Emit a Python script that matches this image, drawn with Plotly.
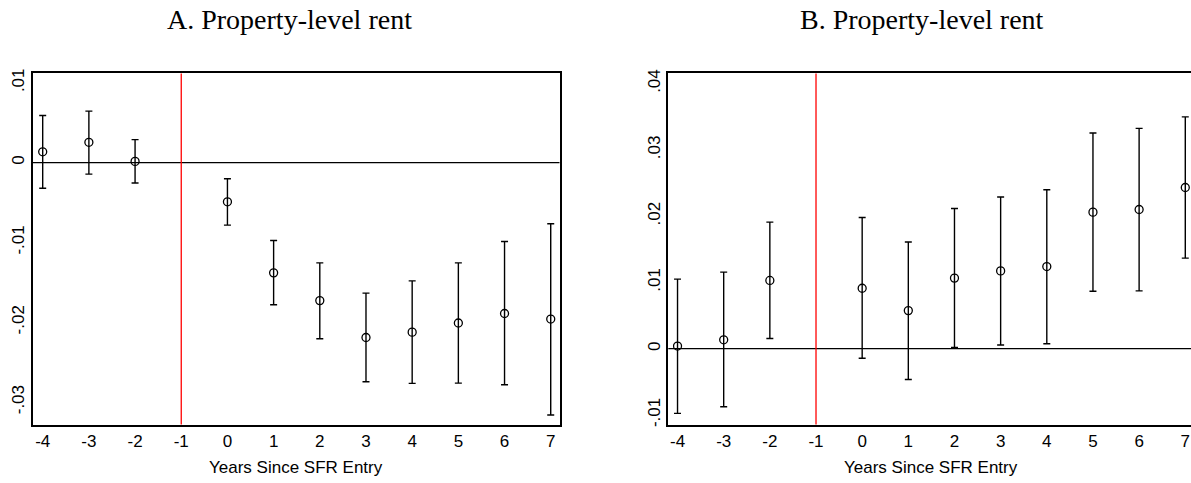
import plotly.graph_objects as go
import numpy as np

years = [-4, -3, -2, 0, 1, 2, 3, 4, 5, 6, 7]

# Panel A: Property-level rent
a_est = [0.00136, 0.00255, 0.00016, -0.0049, -0.0138, -0.01728, -0.0219, -0.02123, -0.02008, -0.01889, -0.01959]
a_hi = [0.0059, 0.00646, 0.00288, -0.00202, -0.00975, -0.01255, -0.01634, -0.01481, -0.01255, -0.00988, -0.00765]
a_lo = [-0.0032, -0.00144, -0.00255, -0.00782, -0.0178, -0.02206, -0.02745, -0.02765, -0.02761, -0.02782, -0.0316]

# Panel B: Property-level rent
b_est = [0.0004, 0.00134, 0.0103, 0.00912, 0.00575, 0.01065, 0.01174, 0.01239, 0.0206, 0.0210, 0.02432]
b_hi = [0.0105, 0.01155, 0.0191, 0.0198, 0.0161, 0.02115, 0.02289, 0.02398, 0.03254, 0.03324, 0.03498]
b_lo = [-0.00975, -0.00876, 0.00154, -0.00143, -0.00465, 0.0002, 0.00055, 0.00074, 0.00867, 0.00872, 0.01367]

x_ticks = [-4, -3, -2, -1, 0, 1, 2, 3, 4, 5, 6, 7]
a_yticks = [-0.03, -0.02, -0.01, 0, 0.01]
a_ytext = ["-.03", "-.02", "-.01", "0", ".01"]
b_yticks = [-0.01, 0, 0.01, 0.02, 0.03, 0.04]
b_ytext = ["-.01", "0", ".01", ".02", ".03", ".04"]

titles = ["A. Property-level rent", "B. Property-level rent"]
xlabel = "Years Since SFR Entry"

W, H = 1191, 483
fig = go.Figure()


def add_panel(est, hi, lo, xa, ya):
    est = np.array(est); hi = np.array(hi); lo = np.array(lo)
    fig.add_trace(go.Scatter(
        x=years, y=est, mode="markers", xaxis=xa, yaxis=ya,
        marker=dict(symbol="circle-open", size=8, color="black", line=dict(width=1.3, color="black")),
        error_y=dict(type="data", symmetric=False, array=hi - est, arrayminus=est - lo,
                     color="black", thickness=1.4, width=3.5),
        showlegend=False, hoverinfo="skip"))


add_panel(a_est, a_hi, a_lo, "x", "y")
add_panel(b_est, b_hi, b_lo, "x2", "y2")

font_tick = dict(family="Liberation Sans, Arial, sans-serif", size=17, color="black")
ydom = [1 - 425.7 / H, 1 - 69.5 / H]

common_x = dict(tickvals=x_ticks, ticktext=[str(v) for v in x_ticks], showgrid=False, zeroline=False,
                showline=True, linecolor="black", linewidth=1.5, ticks="", tickfont=font_tick)
common_y = dict(showgrid=False, zeroline=False, showline=True, linecolor="black", linewidth=1.5,
                ticks="", tickfont=font_tick, tickangle=-90)

fig.update_layout(
    width=W, height=H, margin=dict(l=0, r=0, t=0, b=0),
    paper_bgcolor="white", plot_bgcolor="white",
    xaxis=dict(domain=[33 / W, 559.5 / W], range=[-4.21, 7.19], anchor="y", mirror=True, **common_x),
    yaxis=dict(domain=ydom, range=[-0.0328, 0.01117], anchor="x", mirror=True,
               tickvals=a_yticks, ticktext=a_ytext, **common_y),
    xaxis2=dict(domain=[668.3 / W, 1.0], range=[-4.2, 7.124], anchor="y2", mirror=True, **common_x),
    yaxis2=dict(domain=ydom, range=[-0.01144, 0.04152], anchor="x2", mirror=False,
                tickvals=b_yticks, ticktext=b_ytext, **common_y),
)

for xr, yr in [("x", "y"), ("x2", "y2")]:
    fig.add_shape(type="line", xref=xr + " domain", yref=yr, x0=0, x1=1, y0=0, y1=0,
                  line=dict(color="black", width=1.3), layer="below")
    fig.add_shape(type="line", xref=xr, yref=yr + " domain", x0=-1, x1=-1, y0=0, y1=1,
                  line=dict(color="red", width=1.3), layer="below")

title_font = dict(family="Liberation Serif, Times New Roman, serif", size=28, color="black")
label_font = dict(family="Liberation Sans, Arial, sans-serif", size=17, color="black")
for tx, cx in zip(titles, [289, 922]):
    fig.add_annotation(text=tx, x=cx / W, y=1 - 15 / H, xref="paper", yref="paper",
                       xanchor="center", yanchor="middle", showarrow=False, font=title_font)
for cx in [296, 931]:
    fig.add_annotation(text=xlabel, x=cx / W, y=1 - 469 / H, xref="paper", yref="paper",
                       xanchor="center", yanchor="middle", showarrow=False, font=label_font)

fig.write_html("out.html")
